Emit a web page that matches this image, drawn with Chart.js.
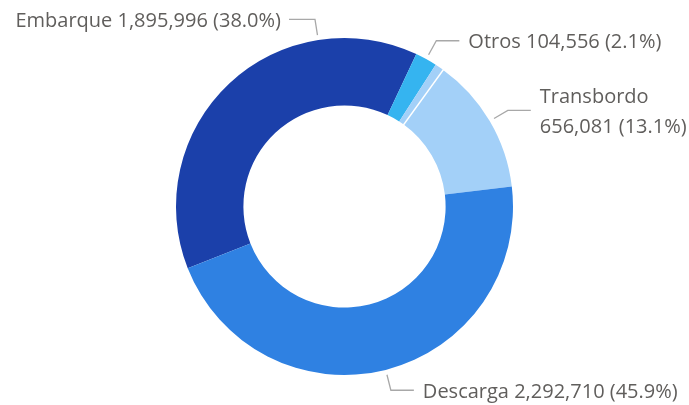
<!DOCTYPE html>
<html>
<head>
<meta charset="utf-8">
<script src="https://cdn.jsdelivr.net/npm/chart.js@4"></script>
<style>
  html, body { margin: 0; padding: 0; background: #fff; }
  #wrap { width: 689px; height: 405px; }
</style>
</head>
<body>
<div id="wrap"><canvas id="donut"></canvas></div>
<script>
// slices in clockwise order, starting at the Embarque/Descarga boundary
const categories = ['Embarque', 'Otros', 'Sin dato', 'Transbordo', 'Descarga'];
const values = [1895996, 104556, 43000, 656081, 2292710];
const sliceColors = ['#1b40aa', '#35b4f0', '#a3d0f8', '#a3d0f8', '#2f81e2'];
const showLabel = [true, true, false, true, true];
const labelAt = [0.75, 0.5, 0.5, 0.5, 0.5];      // where along the arc the leader starts
const separatorAfter = [false, false, true, false, false];

const textColor = '#605e5c';
const lineColor = '#a8a8a8';
const labelFont = '20px "Open Sans", "Noto Sans", sans-serif';

function fmt(v) {
    return v.toLocaleString('en-US');
}

const leaderLabels = {
    id: 'leaderLabels',
    afterDatasetsDraw(chart) {
        const ctx = chart.ctx;
        const meta = chart.getDatasetMeta(0);
        const total = values.reduce((a, b) => a + b, 0);
        ctx.save();

        // thin white seam between the unlabeled slice and Transbordo
        meta.data.forEach((arc, i) => {
            if (!separatorAfter[i]) return;
            const a = arc.endAngle;
            ctx.strokeStyle = '#ffffff';
            ctx.lineWidth = 1.6;
            ctx.beginPath();
            ctx.moveTo(arc.x + Math.cos(a) * (arc.innerRadius - 1), arc.y + Math.sin(a) * (arc.innerRadius - 1));
            ctx.lineTo(arc.x + Math.cos(a) * (arc.outerRadius + 1), arc.y + Math.sin(a) * (arc.outerRadius + 1));
            ctx.stroke();
        });

        ctx.font = labelFont;
        ctx.textBaseline = 'middle';
        meta.data.forEach((arc, i) => {
            if (!showLabel[i]) return;
            const a = arc.startAngle + (arc.endAngle - arc.startAngle) * labelAt[i];
            const r1 = arc.outerRadius + 5;
            const r2 = arc.outerRadius + 21;
            const x1 = arc.x + Math.cos(a) * r1, y1 = arc.y + Math.sin(a) * r1;
            const x2 = arc.x + Math.cos(a) * r2, y2 = arc.y + Math.sin(a) * r2;
            const right = Math.cos(a) >= 0;
            const x3 = right ? x2 + 23 : x2 - 26;

            ctx.strokeStyle = lineColor;
            ctx.lineWidth = 1.3;
            ctx.beginPath();
            ctx.moveTo(x1, y1);
            ctx.lineTo(x2, y2);
            ctx.lineTo(x3, y2);
            ctx.stroke();

            const pct = (values[i] / total * 100).toFixed(1);
            const name = categories[i];
            const num = fmt(values[i]) + ' (' + pct + '%)';
            const full = name + ' ' + num;
            const tx = right ? x3 + 9 : x3 - 8;
            ctx.fillStyle = textColor;
            ctx.textAlign = right ? 'left' : 'right';
            if (right && tx + ctx.measureText(full).width > chart.width - 4) {
                ctx.fillText(name, tx, y2 - 13);
                ctx.fillText(num, tx, y2 + 17);
            } else {
                ctx.fillText(full, tx, y2 + 2);
            }
        });
        ctx.restore();
    }
};

new Chart(document.getElementById('donut'), {
    type: 'doughnut',
    data: {
        labels: categories,
        datasets: [{
            data: values,
            backgroundColor: sliceColors,
            borderWidth: 0
        }]
    },
    options: {
        responsive: true,
        maintainAspectRatio: false,
        animation: false,
        rotation: 248.5,
        cutout: '60%',
        layout: {
            padding: { top: 38, bottom: 30, left: 0, right: 0 }
        },
        plugins: {
            legend: { display: false },
            tooltip: { enabled: false }
        }
    },
    plugins: [leaderLabels]
});
</script>
</body>
</html>
